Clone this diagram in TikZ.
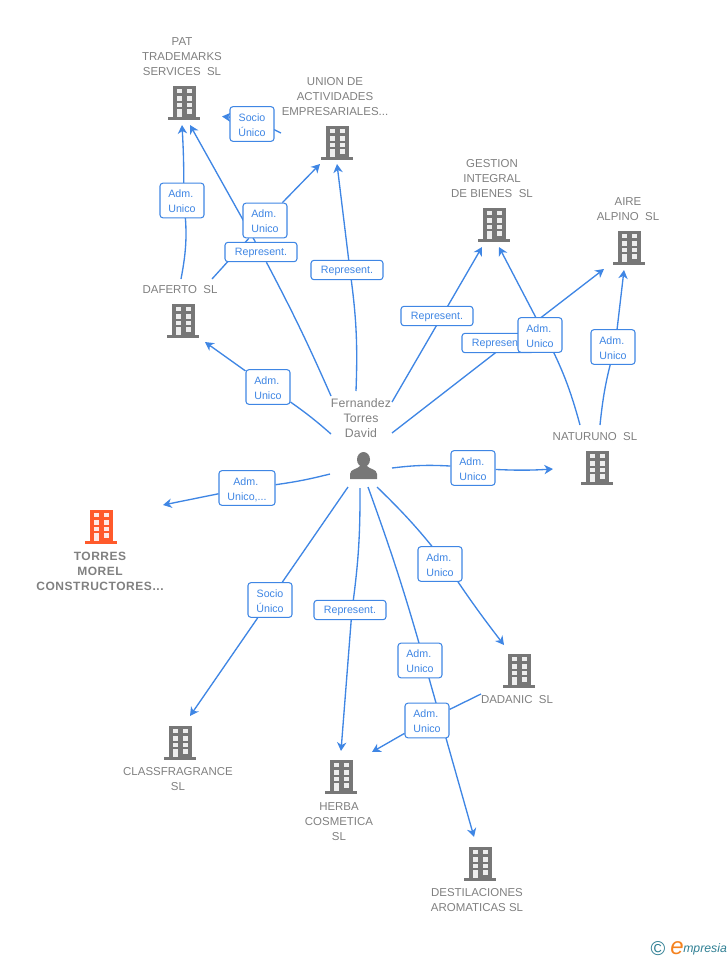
\documentclass[tikz,border=0pt]{standalone}
\usepackage{fontspec}
\setmainfont{Liberation Sans}
\usetikzlibrary{arrows.meta,backgrounds}
\definecolor{linkblue}{HTML}{3F86E4}
\definecolor{iconGrey}{HTML}{777777}
\definecolor{firmGrey}{HTML}{808080}
\definecolor{iconOrange}{HTML}{FF5A2B}
\definecolor{logoOrange}{HTML}{F5821F}
\definecolor{logoTeal}{HTML}{2F7F93}
\tikzset{
	link/.style={linkblue, line width=1pt},
	linkto/.style={link, -{Stealth[length=6.5pt, width=7pt, inset=2pt]}},
	firm/.style={firmGrey, align=center, inner sep=0pt, yshift=-0.75pt, font=\fontsize{8.6}{11.25}\selectfont},
	firmb/.style={firm, font=\fontsize{9}{11.25}\selectfont\bfseries\addfontfeature{LetterSpace=4.5}},
	personname/.style={firm, font=\fontsize{9.2}{11.25}\selectfont\addfontfeature{LetterSpace=1.5}},
	tag/.style={draw=linkblue, fill=white, line width=0.8pt, rounded corners=2.2pt, text=linkblue, align=center, inner sep=0pt, font=\fontsize{8}{11.25}\selectfont},
	adm/.style={tag, minimum width=33pt, minimum height=26pt, text height=20pt, text depth=1.3pt},
	rep/.style={tag, minimum width=54pt, minimum height=14.5pt, text height=6pt, text depth=1.4pt},
	building/.pic={
		\fill[pic actions] (-11.5,-16) rectangle (11.5,15);
		\fill[pic actions] (-16,15) rectangle (16,17.5);
		\begin{scope}[white, opacity=0.88]
			\fill (-7.3,-12.7) rectangle (-2.3,-8.7);
			\fill (2.7,-12.7) rectangle (7.7,-8.7);
			\fill (-7.3,-6) rectangle (-2.3,-1.3);
			\fill (2.7,-6) rectangle (7.7,-1.3);
			\fill (-7.3,1.3) rectangle (-2.3,5.3);
			\fill (2.7,1.3) rectangle (7.7,5.3);
			\fill (-7.3,7.3) rectangle (-2.3,15);
			\fill (2.7,7.3) rectangle (7.7,12);
		\end{scope}
	},
}
\def\admunico{Adm.\hphantom{i}\\Unico}

\begin{document}
\begin{tikzpicture}[x=0.75pt, y=-0.75pt]
	%%%%% START %%%%%
	\useasboundingbox (0,0) rectangle (728,960);

	%%%%% buildings %%%%%
	\pic[fill=iconGrey] at (184,102) {building};
	\pic[fill=iconGrey] at (337,142) {building};
	\pic[fill=iconGrey] at (494,224) {building};
	\pic[fill=iconGrey] at (629,247) {building};
	\pic[fill=iconGrey] at (183,320) {building};
	\pic[fill=iconGrey] at (597,467) {building};
	\pic[fill=iconOrange] at (101,526) {building};
	\pic[fill=iconGrey] at (180,742) {building};
	\pic[fill=iconGrey] at (341,776) {building};
	\pic[fill=iconGrey] at (480,863) {building};
	\pic[fill=iconGrey] at (519,670) {building};

	%%%%% person %%%%%
	\fill[iconGrey] (363.5,459.5) ellipse (6.5 and 7.5);
	\fill[iconGrey] (350,479) -- (350,474) .. controls (350,469) and (358,469) .. (360,466) -- (367,466) .. controls (369,469) and (377,469) .. (377,474) -- (377,479) -- cycle;

	%%%%% names %%%%%
	\node[firm] (patName) at (182,56) {PAT\\TRADEMARKS\\SERVICES\ \ SL};
	\node[firm] (unionName) at (335,96) {UNION DE\\ACTIVIDADES\\EMPRESARIALES...};
	\node[firm] (gestionName) at (492,178) {GESTION\\INTEGRAL\\DE BIENES\ \ SL};
	\node[firm] (aireName) at (628,208.5) {AIRE\\ALPINO\ \ SL};
	\node[firm] (dafertoName) at (180,289) {DAFERTO\ \ SL};
	\node[firm] (naturunoName) at (595,436) {NATURUNO\ \ SL};
	\node[firmb] (torresName) at (100,570) {TORRES\\MOREL\\CONSTRUCTORES...};
	\node[firm] (className) at (178,778.5) {CLASSFRAGRANCE\\SL};
	\node[firm] (herbaName) at (339,821) {HERBA\\COSMETICA\\SL};
	\node[firm] (destilName) at (477,899.5) {DESTILACIONES\\AROMATICAS SL};
	\node[firm] (dadanicName) at (517,699) {DADANIC\ \ SL};
	\node[personname] (personName) at (361,417) {Fernandez\\Torres\\David};

	%%%%% tags %%%%%
	\node[rep] (repPat) at (261,252) {Represent.};
	\node[rep] (repUnion) at (347,270) {Represent.};
	\node[rep] (repGestion) at (437,316) {Represent.};
	\node[rep] (repAire) at (498,343) {Represent.};
	\node[rep] (repHerba) at (350,610) {Represent.};
	\node[adm] (socUnion) at (252,124) {Socio\\Único};
	\node[adm] (socClass) at (270,600) {Socio\\Único};
	\node[adm] (admDafPat) at (182,200.5) {\admunico};
	\node[adm] (admDafUnion) at (265,220.5) {\admunico};
	\node[adm] (admNatGestion) at (540,335) {\admunico};
	\node[adm] (admNatAire) at (613,347) {\admunico};
	\node[adm] (admDaferto) at (268,387) {\admunico};
	\node[adm, minimum width=42pt] (admTorres) at (247,488) {\admunico,...};
	\node[adm] (admNaturuno) at (473,468) {\admunico};
	\node[adm] (admDadanic) at (440,564) {\admunico};
	\node[adm] (admDestil) at (420,660.5) {\admunico};
	\node[adm] (admDadHerba) at (427,720.5) {\admunico};

	%%%%% logo %%%%%
	\node[logoTeal, inner sep=0pt, font=\fontsize{15}{15}\selectfont] (logoC) at (658,949) {©};
	\node[logoOrange, inner sep=0pt, font=\fontsize{18}{18}\itshape] (logoE) at (677,948) {e};
	\node[logoTeal, inner sep=0pt, anchor=west, font=\fontsize{9.2}{11}\selectfont\itshape] (logoName) at (683,949.5) {mpresia};

	%%%%% free ends %%%%%
	\coordinate (fromTorres) at (330,474);
	\coordinate (toTorres) at (163,505);
	\coordinate (fromDaferto) at (331,434);
	\coordinate (toDaferto) at (205,342);
	\coordinate (fromPat) at (331,396);
	\coordinate (toPatB) at (190,125);
	\coordinate (fromUnion) at (356,391);
	\coordinate (toUnionB) at (337,164);
	\coordinate (fromGestion) at (392,402);
	\coordinate (toGestionA) at (482,247);
	\coordinate (fromAire) at (392,433);
	\coordinate (toAireA) at (604,269);
	\coordinate (natA) at (580,425);
	\coordinate (toGestionB) at (499,247);
	\coordinate (natB) at (600,425);
	\coordinate (toAireB) at (624,270);
	\coordinate (fromNat) at (392,468);
	\coordinate (toNat) at (553,469);
	\coordinate (dafA) at (181,279);
	\coordinate (toPatA) at (182,125);
	\coordinate (dafB) at (212,279);
	\coordinate (toUnionA) at (320,164);
	\coordinate (unionOut) at (281,133);
	\coordinate (toPatC) at (222,116.5);
	\coordinate (fromClass) at (348,487);
	\coordinate (toClass) at (190,716);
	\coordinate (fromHerba) at (360,488);
	\coordinate (toHerbaA) at (341,751);
	\coordinate (fromDadanic) at (377,487);
	\coordinate (toDadanic) at (504,645);
	\coordinate (fromDestil) at (368,487);
	\coordinate (toDestil) at (474,837);
	\coordinate (dadOut) at (481,694);
	\coordinate (toHerbaB) at (372,752);

	%%%%% connectors %%%%%
	\begin{pgfonlayer}{background}
		\draw[link] (fromTorres) to[bend left=3] (admTorres);
		\draw[linkto] (admTorres) to (toTorres);
		\draw[link] (fromDaferto) to[bend right=3] (admDaferto);
		\draw[linkto] (admDaferto) to (toDaferto);
		\draw[link] (fromPat) to[bend right=2] (repPat);
		\draw[linkto] (repPat) to (toPatB);
		\draw[link] (fromUnion) to[bend right=5] ([xshift=2.2pt]repUnion.center);
		\draw[linkto] ([xshift=2.2pt]repUnion.center) to (toUnionB);
		\draw[link] (fromGestion) to ([xshift=3.75pt]repGestion.center);
		\draw[linkto] ([xshift=3.75pt]repGestion.center) to (toGestionA);
		\draw[link] (fromAire) to ([xshift=7.5pt]repAire.center);
		\draw[linkto] ([xshift=7.5pt]repAire.center) to (toAireA);
		\draw[link] (natA) to[bend right=6] ([xshift=3.75pt]admNatGestion.center);
		\draw[linkto] ([xshift=3.75pt]admNatGestion.center) to (toGestionB);
		\draw[link] (natB) to[bend left=5] ([xshift=1.5pt]admNatAire.center);
		\draw[linkto] ([xshift=1.5pt]admNatAire.center) to (toAireB);
		\draw[link] (fromNat) to[bend left=5] (admNaturuno);
		\draw[linkto] (admNaturuno) to[bend right=3] (toNat);
		\draw[link] (dafA) to[bend right=9] ([xshift=1.2pt]admDafPat.center);
		\draw[linkto] ([xshift=1.2pt]admDafPat.center) to[bend right=2] (toPatA);
		\draw[link] (dafB) to (admDafUnion);
		\draw[linkto] (admDafUnion) to (toUnionA);
		\draw[link] (unionOut) to ([yshift=3.75pt]socUnion.center);
		\draw[linkto] ([yshift=3.75pt]socUnion.center) to (toPatC);
		\draw[link] (fromClass) to (socClass);
		\draw[linkto] (socClass) to (toClass);
		\draw[link] (fromHerba) to[bend left=4] ([xshift=1.5pt]repHerba.center);
		\draw[linkto] ([xshift=1.5pt]repHerba.center) to (toHerbaA);
		\draw[link] (fromDadanic) to[bend left=4] ([xshift=4.5pt]admDadanic.center);
		\draw[linkto] ([xshift=4.5pt]admDadanic.center) to[bend right=2] (toDadanic);
		\draw[link] (fromDestil) to[bend left=2] ([xshift=3pt]admDestil.center);
		\draw[linkto] ([xshift=3pt]admDestil.center) to (toDestil);
		\draw[link] (dadOut) to (admDadHerba);
		\draw[linkto] (admDadHerba) to (toHerbaB);
	\end{pgfonlayer}
	%%%%% END %%%%%
\end{tikzpicture}
\end{document}
